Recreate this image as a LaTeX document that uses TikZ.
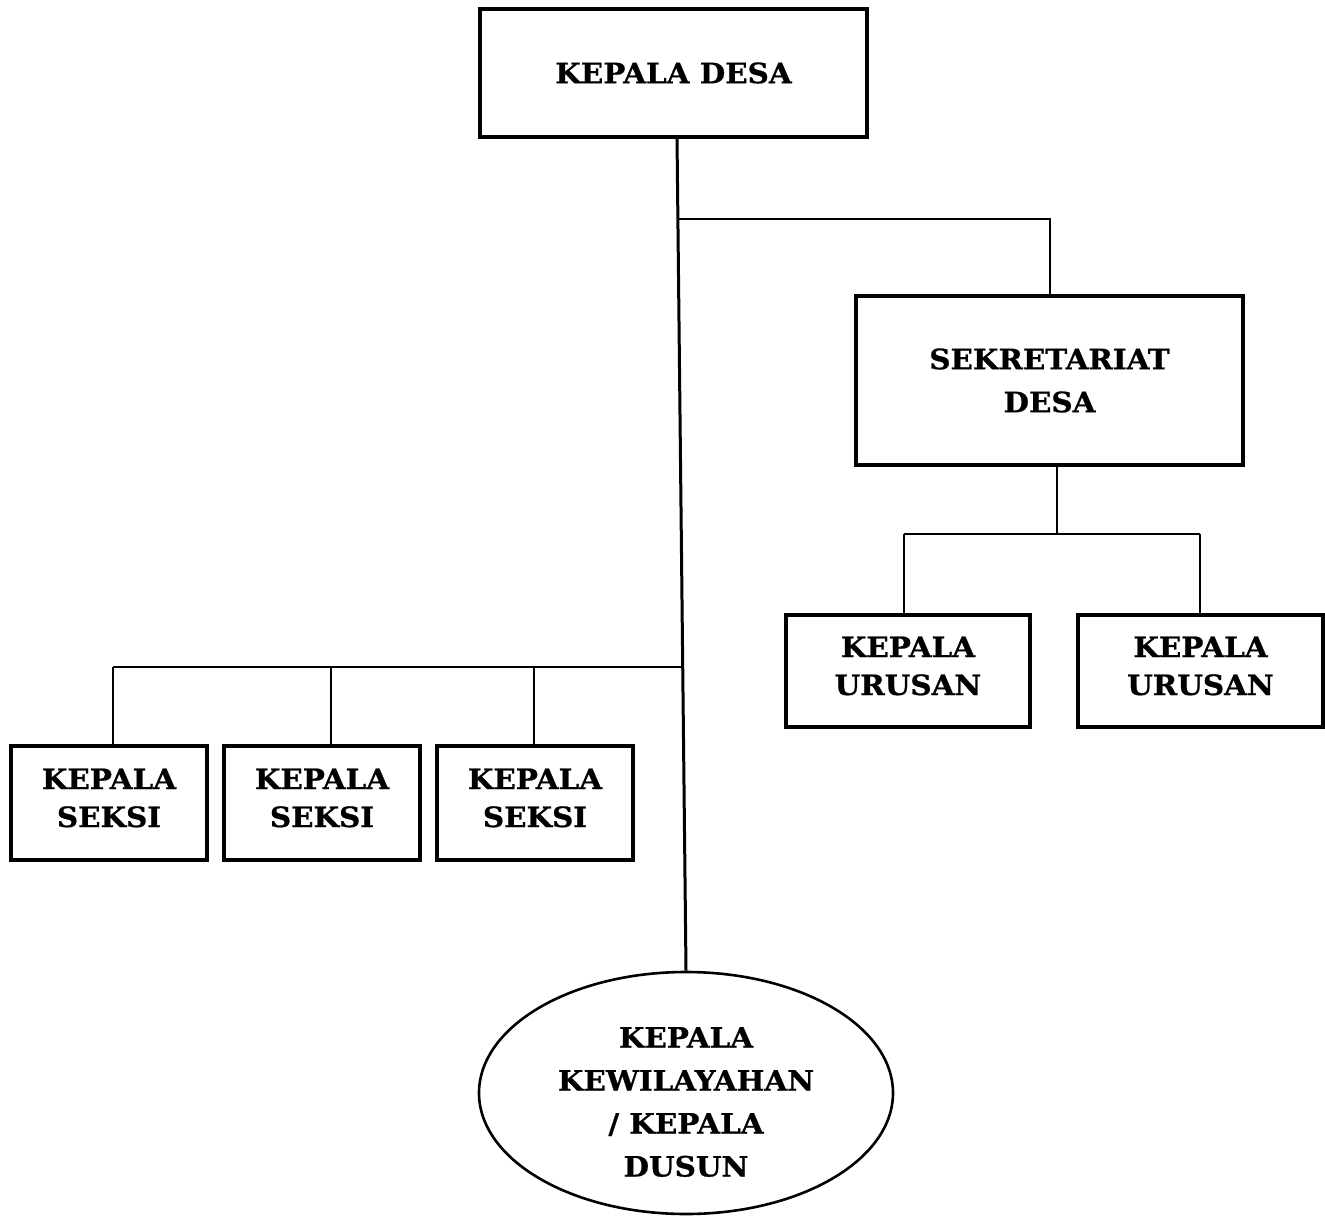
\documentclass[tikz,border=0pt]{standalone}
\usepackage{fontspec}
\setmainfont{DejaVu Serif}[BoldFeatures={FakeStretch=1.05,FakeBold=0.8}]
\usetikzlibrary{shapes.geometric,calc}
\newcommand\lnshift[2]{\raisebox{#1}[\height][\depth]{#2}}
\begin{document}
\begin{tikzpicture}[x=1pt,y=-1pt,
  box/.style={draw,line width=3.2pt,rectangle,inner sep=0pt,align=center,
    font=\bfseries\fontsize{28}{38}\selectfont},
  conn/.style={line width=2pt},
  mainconn/.style={line width=3pt}]
\useasboundingbox (0,0) rectangle (1325,1218);
\node[box,minimum width=387pt,minimum height=128pt] (kd) at (673.5,73) {KEPALA DESA};
\node[box,minimum width=387pt,minimum height=169pt,font=\bfseries\fontsize{28}{43}\selectfont] (sd) at (1049.5,380.5) {SEKRETARIAT\\DESA};
\node[box,minimum width=244pt,minimum height=112pt] (ku1) at (908,671) {\lnshift{5pt}{KEPALA}\\\lnshift{5pt}{URUSAN}};
\node[box,minimum width=245pt,minimum height=112pt] (ku2) at (1200.5,671) {\lnshift{5pt}{KEPALA}\\\lnshift{5pt}{URUSAN}};
\node[box,minimum width=196pt,minimum height=114pt] (ks1) at (109,803) {\lnshift{5pt}{KEPALA}\\\lnshift{5pt}{SEKSI}};
\node[box,minimum width=196pt,minimum height=114pt] (ks2) at (322,803) {\lnshift{5pt}{KEPALA}\\\lnshift{5pt}{SEKSI}};
\node[box,minimum width=196pt,minimum height=114pt] (ks3) at (535,803) {\lnshift{5pt}{KEPALA}\\\lnshift{5pt}{SEKSI}};
\node[draw,ellipse,line width=2.6pt,inner sep=0pt,minimum width=414pt,minimum height=242pt,align=center,
  font=\bfseries\fontsize{28}{43}\selectfont] (kk) at (686,1093)
  {\lnshift{-9pt}{KEPALA}\\\lnshift{-9pt}{KEWILAYAHAN}\\\lnshift{-9pt}{/ KEPALA}\\\lnshift{-9pt}{DUSUN}};
% junctions
\coordinate (kdb) at (677,137);
\coordinate (j1) at (679,219);
\coordinate (lj) at (683,667);
\coordinate (cs1) at (113,667);
\coordinate (cs2) at (331,667);
\coordinate (cs3) at (534,667);
\coordinate (sj) at (1057,534);
\coordinate (su1) at (904,534);
\coordinate (su2) at (1200,534);
% connectors
\draw[mainconn] (kdb) -- (kk.north);
\draw[conn] (j1) -| (sd.north);
\draw[conn] (cs1) -- (lj);
\draw[conn] (cs1) -- (cs1 |- ks1.north);
\draw[conn] (cs2) -- (cs2 |- ks2.north);
\draw[conn] (cs3) -- (cs3 |- ks3.north);
\draw[conn] (sd.south -| sj) -- (sj);
\draw[conn] (su1) -- (su2);
\draw[conn] (su1) -- (su1 |- ku1.north);
\draw[conn] (su2) -- (su2 |- ku2.north);
\end{tikzpicture}
\end{document}
